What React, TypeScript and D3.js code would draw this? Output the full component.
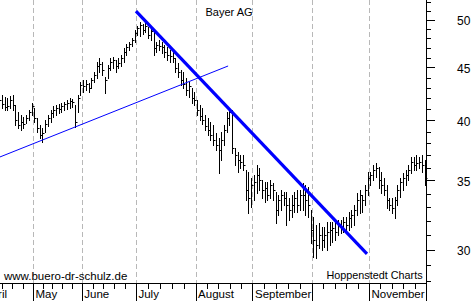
import React from "react";
import * as d3 from "d3";

const WIDTH = 474;
const HEIGHT = 301;

// Daily bars (trading-day index 0..157)
const highs = [
  42.51, 42.32, 42.13, 42.04, 42.23, 42.32, 41.39, 40.75, 40.48, 40.30,
  40.48, 40.94, 41.58, 41.12, 40.21, 39.59, 39.33, 40.04, 40.48, 40.94,
  41.30, 41.39, 41.48, 41.58, 41.67, 41.86, 42.04, 41.95, 41.39, 42.32,
  43.56, 43.76, 43.76, 43.47, 43.95, 44.54, 45.54, 45.95, 45.54, 44.05,
  45.24, 45.95, 46.05, 45.75, 45.95, 46.26, 46.98, 47.40, 47.61, 48.04,
  48.90, 49.34, 49.78, 49.56, 49.67, 49.23, 49.12, 48.68, 47.61, 47.83,
  47.61, 47.30, 47.09, 46.78, 46.56, 45.95, 45.44, 44.74, 44.54, 43.95,
  43.56, 42.99, 42.61, 41.86, 41.39, 41.12, 40.48, 40.21, 39.86, 39.59,
  38.90, 38.46, 38.98, 39.59, 40.75, 41.12, 40.94, 37.62, 37.29, 37.04,
  37.04, 35.82, 35.66, 35.19, 35.43, 36.22, 35.98, 35.04, 34.88, 34.88,
  35.04, 34.80, 34.11, 33.89, 34.27, 34.11, 34.11, 33.66, 33.89, 34.11,
  34.27, 34.27, 34.80, 34.65, 34.50, 32.78, 32.27, 31.70, 31.84, 31.56,
  31.56, 31.91, 31.91, 31.91, 32.06, 32.06, 32.06, 32.27, 32.27, 32.63,
  32.78, 33.14, 34.04, 34.27, 33.89, 34.65, 35.66, 35.66, 36.22, 36.39,
  36.06, 35.66, 35.19, 34.65, 33.66, 33.66, 33.74, 34.65, 35.19, 35.59,
  35.82, 36.22, 36.87, 36.87, 37.04, 36.87, 37.04, 36.63,
];
const lows = [
  41.30, 41.12, 40.94, 40.94, 41.12, 40.94, 39.59, 39.33, 39.16, 39.33,
  39.77, 40.04, 40.48, 39.86, 38.98, 38.46, 38.12, 38.98, 39.50, 39.86,
  40.30, 40.48, 40.66, 40.75, 40.94, 41.03, 41.12, 41.21, 39.42, 40.75,
  42.32, 42.61, 42.80, 42.61, 42.99, 43.56, 43.95, 44.54, 44.25, 42.51,
  43.95, 44.74, 44.94, 44.54, 44.94, 45.14, 45.54, 46.26, 46.78, 47.19,
  47.61, 48.36, 48.25, 48.47, 48.68, 48.04, 47.83, 46.26, 46.56, 46.78,
  46.47, 46.05, 45.75, 45.54, 45.54, 44.54, 44.05, 43.27, 42.99, 42.32,
  42.13, 41.58, 41.39, 40.48, 40.04, 39.68, 39.16, 38.72, 38.29, 37.87,
  37.45, 35.59, 36.63, 37.87, 38.98, 39.59, 37.20, 36.22, 35.66, 35.98,
  35.82, 33.51, 32.56, 32.99, 33.51, 34.04, 34.27, 33.66, 33.36, 33.51,
  33.66, 33.51, 31.84, 32.41, 32.78, 33.14, 31.70, 32.06, 32.27, 32.63,
  32.63, 32.78, 32.78, 32.41, 32.27, 30.46, 29.52, 29.46, 30.12, 29.99,
  30.19, 29.99, 30.32, 30.53, 30.66, 31.00, 31.14, 31.21, 31.21, 31.35,
  31.56, 31.70, 32.41, 32.56, 32.63, 33.14, 33.89, 34.65, 35.04, 35.27,
  34.42, 34.04, 33.89, 32.92, 32.78, 32.56, 32.20, 33.14, 33.74, 34.27,
  34.65, 35.04, 35.59, 35.82, 35.82, 35.98, 35.66, 34.65,
];
const closes = [
  41.86, 41.48, 41.21, 41.30, 41.86, 41.39, 40.04, 39.59, 39.86, 39.68,
  40.21, 40.75, 41.30, 40.21, 39.33, 38.72, 38.90, 39.68, 40.21, 40.66,
  40.94, 41.12, 41.03, 41.30, 41.48, 41.58, 41.76, 41.67, 39.86, 42.04,
  43.27, 43.18, 43.37, 42.99, 43.76, 44.25, 45.14, 45.34, 44.74, 43.76,
  44.94, 45.54, 45.75, 45.14, 45.44, 45.95, 46.56, 47.09, 47.40, 47.83,
  48.58, 49.12, 49.45, 48.90, 49.34, 48.36, 48.79, 46.98, 47.30, 47.19,
  47.09, 46.56, 46.26, 46.16, 45.95, 44.94, 44.54, 43.76, 43.37, 42.80,
  43.18, 42.04, 41.86, 40.94, 40.39, 40.04, 39.50, 39.16, 38.72, 38.29,
  37.87, 37.45, 38.29, 39.16, 40.21, 40.75, 37.62, 37.04, 36.63, 36.47,
  36.22, 34.27, 33.66, 34.65, 34.88, 35.43, 35.04, 34.27, 34.42, 33.89,
  34.65, 34.27, 32.78, 33.51, 33.89, 33.66, 33.14, 32.78, 33.14, 33.66,
  33.14, 33.89, 33.89, 33.51, 33.14, 31.35, 30.66, 30.32, 31.00, 30.66,
  31.00, 31.21, 31.35, 31.49, 31.21, 31.70, 31.49, 31.91, 31.70, 32.20,
  32.41, 32.78, 33.51, 33.89, 33.51, 34.27, 35.19, 35.43, 35.82, 35.98,
  35.04, 34.65, 34.27, 33.51, 33.14, 32.92, 33.51, 34.27, 34.88, 35.19,
  35.43, 35.82, 36.47, 36.22, 36.39, 36.47, 36.22, 35.19,
];

// First trading-day index of each month (April .. December)
const monthStarts = [-6, 13, 31, 51, 73, 94, 116, 137, 158];
const monthLabels = ["April", "May", "June", "July", "August", "September", "", "November"];

const priceTicks = [30, 35, 40, 45, 50];
const minorPriceTicks = d3.range(28, 53);

// Trend lines: [index, price] endpoints
const supportLine = [
  { i: 0.33, v: 36.88 },
  { i: 84.5, v: 45.14 },
];
const resistanceLine = [
  { i: 50.5, v: 51.0 },
  { i: 135.75, v: 29.73 },
];

const title = "Bayer AG";
const sourceLeft = "www.buero-dr-schulz.de";
const sourceRight = "Hoppenstedt Charts";

const PLOT_RIGHT = 426;
const PLOT_BOTTOM = 283;
const FONT = "'Liberation Sans', Arial, Helvetica, sans-serif";

export default function App() {
  const x = d3.scaleLinear().domain([0, 157]).range([-0.9, -0.9 + 2.71 * 157]);
  const y = d3.scaleLog().domain([27.87, 52.27]).range([PLOT_BOTTOM, 0]);
  const px = (v: number) => Math.round(v) + 0.5;

  const monthLineX = monthStarts.map((m) => x(m - 0.5));
  const minorX: number[] = [];
  for (let k = 0; k < monthStarts.length - 1; k++) {
    const a = monthStarts[k] - 0.5;
    const b = monthStarts[k + 1] - 0.5;
    for (let j = 1; j < 5; j++) minorX.push(x(a + ((b - a) * j) / 5));
  }

  const line = d3
    .line<{ i: number; v: number }>()
    .x((d) => x(d.i))
    .y((d) => y(d.v));

  return (
    <svg
      width={WIDTH}
      height={HEIGHT}
      style={{ position: "absolute", left: 0, top: 0, background: "#fff" }}
      fontFamily={FONT}
    >
      <rect x={0} y={0} width={WIDTH} height={HEIGHT} fill="#fff" />
      {/* month gridlines */}
      {monthLineX.slice(0, -1).map((mx, k) => (
        <line
          key={"g" + k}
          x1={px(mx)}
          x2={px(mx)}
          y1={0}
          y2={PLOT_BOTTOM}
          stroke="#b8b8b8"
          strokeDasharray="5,3"
        />
      ))}
      {/* bars */}
      {highs.map((h, i) => {
        const bx = px(x(i));
        return (
          <g key={"b" + i} stroke="#000" strokeWidth={1}>
            <line x1={bx} x2={bx} y1={Math.round(y(h))} y2={Math.round(y(lows[i])) + 1} />
            <line x1={bx - 0.5} x2={bx + 2} y1={px(y(closes[i]))} y2={px(y(closes[i]))} />
          </g>
        );
      })}
      {/* trend lines */}
      <path d={line(supportLine) || ""} stroke="#0000ff" strokeWidth={1} fill="none" />
      <path d={line(resistanceLine) || ""} stroke="#0000ff" strokeWidth={3.2} fill="none" />
      {/* bottom axis */}
      <line x1={0} x2={PLOT_RIGHT} y1={PLOT_BOTTOM + 0.5} y2={PLOT_BOTTOM + 0.5} stroke="#000" />
      {monthLineX.map((mx, k) => (
        <line key={"mt" + k} x1={px(mx)} x2={px(mx)} y1={PLOT_BOTTOM} y2={HEIGHT} stroke="#000" />
      ))}
      {minorX.map((mx, k) => (
        <line key={"mn" + k} x1={px(mx)} x2={px(mx)} y1={PLOT_BOTTOM} y2={PLOT_BOTTOM + 6} stroke="#000" />
      ))}
      {monthLabels.map((lab, k) =>
        lab ? (
          <text key={"ml" + k} x={monthLineX[k] + 2.5} y={297.5} fontSize={11.5} fill="#000">
            {lab}
          </text>
        ) : null
      )}
      {/* right axis */}
      <line x1={PLOT_RIGHT + 0.5} x2={PLOT_RIGHT + 0.5} y1={0} y2={PLOT_BOTTOM} stroke="#000" />
      {minorPriceTicks.map((t) => {
        const major = t % 5 === 0;
        return (
          <line
            key={"pt" + t}
            x1={PLOT_RIGHT}
            x2={PLOT_RIGHT + (major ? 9 : 5)}
            y1={px(y(t))}
            y2={px(y(t))}
            stroke="#000"
          />
        );
      })}
      {priceTicks.map((t) => (
        <text key={"pl" + t} x={457} y={y(t) + 5.5} fontSize={12} fill="#000">
          {t}
        </text>
      ))}
      {/* texts */}
      <text x={205.5} y={15.5} fontSize={11} fill="#000">
        {title}
      </text>
      <text x={4} y={279.5} fontSize={11.5} fill="#000">
        {sourceLeft}
      </text>
      <text x={326.5} y={279} fontSize={10.8} fill="#000">
        {sourceRight}
      </text>
    </svg>
  );
}
